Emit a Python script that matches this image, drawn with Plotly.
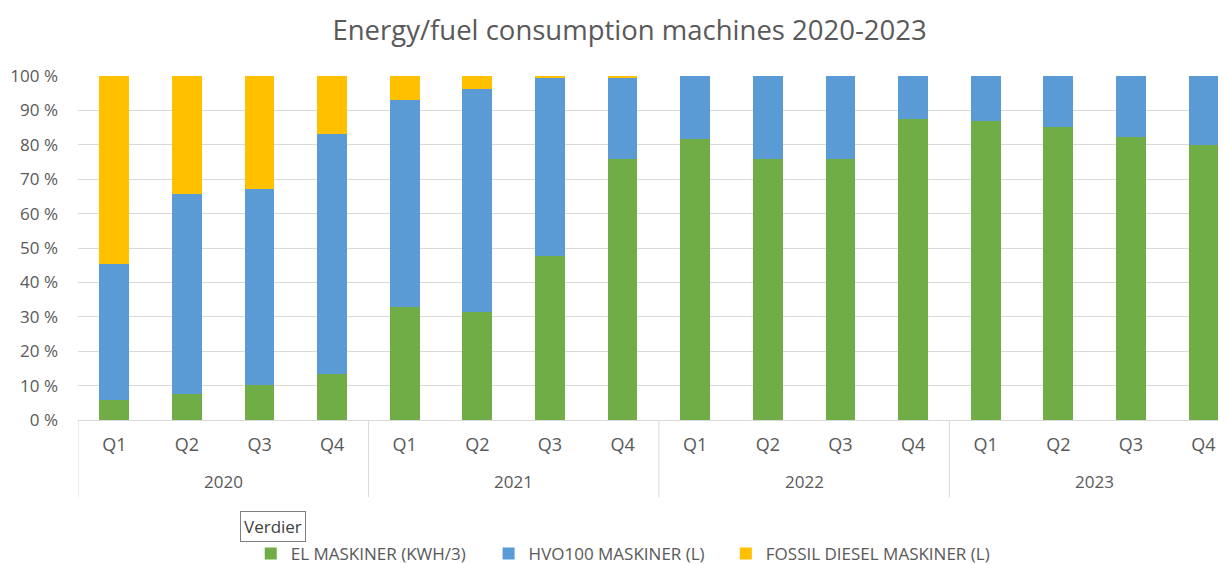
import plotly.graph_objects as go

years = ["2020"] * 4 + ["2021"] * 4 + ["2022"] * 4 + ["2023"] * 4
quarters = ["Q1", "Q2", "Q3", "Q4"] * 4
year_labels = ["2020", "2021", "2022", "2023"]

el = [5.7, 7.6, 10.3, 13.4, 32.9, 31.3, 47.8, 76.0, 81.7, 76.0, 76.0, 87.6, 87.0, 85.2, 82.2, 79.8]
hvo = [39.6, 58.1, 56.9, 69.7, 60.0, 65.0, 51.7, 23.6, 18.3, 24.0, 24.0, 12.4, 13.0, 14.8, 17.8, 20.2]
fossil = [54.7, 34.3, 32.8, 16.9, 7.1, 3.7, 0.5, 0.4, 0, 0, 0, 0, 0, 0, 0, 0]

series_names = ["EL MASKINER (KWH/3)", "HVO100 MASKINER (L)", "FOSSIL DIESEL MASKINER (L)"]
series_colors = ["#70AD47", "#5B9BD5", "#FFC000"]

ytick_vals = list(range(0, 101, 10))
ytick_text = [f"{v} %" for v in ytick_vals]

categories = [f"{y} {q}" for y, q in zip(years, quarters)]

font_family = "Open Sans, Noto Sans, sans-serif"
gray = "#595959"
line_gray = "#D9D9D9"

legend_ids = ["legend", "legend2", "legend3"]
legend_x = [0.198, 0.392, 0.5855]

fig = go.Figure()
for name, vals, col, lid in zip(series_names, [el, hvo, fossil], series_colors, legend_ids):
    fig.add_trace(go.Bar(
        x=categories, y=vals, name=name, legend=lid,
        marker=dict(color=col, line=dict(width=0)),
        width=0.41,
    ))

legend_common = dict(orientation="h", xref="container", yref="container",
                     y=-0.005, xanchor="left", yanchor="bottom",
                     font=dict(size=17, color=gray),
                     bgcolor="rgba(0,0,0,0)")

fig.update_layout(
    barmode="stack",
    width=1226, height=564,
    margin=dict(l=70, r=8, t=68, b=152, autoexpand=False),
    paper_bgcolor="white", plot_bgcolor="white",
    font=dict(family=font_family, color=gray, size=16),
    title=dict(text="Energy/fuel consumption machines 2020-2023",
               x=0.507, xanchor="center", y=0.961, yanchor="middle",
               font=dict(size=27.5, color=gray, family=font_family)),
    showlegend=True,
    legend=dict(x=legend_x[0], **legend_common),
    legend2=dict(x=legend_x[1], **legend_common),
    legend3=dict(x=legend_x[2], **legend_common),
)
fig.update_xaxes(
    type="category",
    range=[-0.5, 15.31],
    tickvals=categories, ticktext=quarters,
    showline=True, linecolor=line_gray, linewidth=1,
    tickfont=dict(size=18, color=gray),
    ticks="", showgrid=False, ticklabelstandoff=8,
    automargin=False,
)
fig.update_yaxes(
    range=[0, 100],
    tickvals=ytick_vals, ticktext=ytick_text,
    showgrid=True, gridcolor=line_gray, gridwidth=1,
    zeroline=False, showline=False,
    tickfont=dict(size=17, color=gray),
    ticks="", ticklabelstandoff=19,
    automargin=False,
)

# year group labels and group separators
for i, yl in enumerate(year_labels):
    fig.add_annotation(
        text=yl, xref="x", yref="paper", x=4 * i + 1.5, y=-0.180,
        xanchor="center", yanchor="middle", showarrow=False,
        font=dict(size=17, color=gray),
    )
    fig.add_shape(
        type="line", xref="x", yref="paper",
        x0=4 * i - 0.5, x1=4 * i - 0.5, y0=0, y1=-0.224,
        line=dict(color=line_gray, width=1),
    )

fig.add_annotation(
    text="Verdier", xref="paper", yref="paper",
    x=0.170, y=-0.311, xanchor="center", yanchor="middle",
    showarrow=False, font=dict(size=17, color="#404040"),
    bordercolor="#808080", borderwidth=1, borderpad=3, bgcolor="white",
)
fig.write_html("out.html")
